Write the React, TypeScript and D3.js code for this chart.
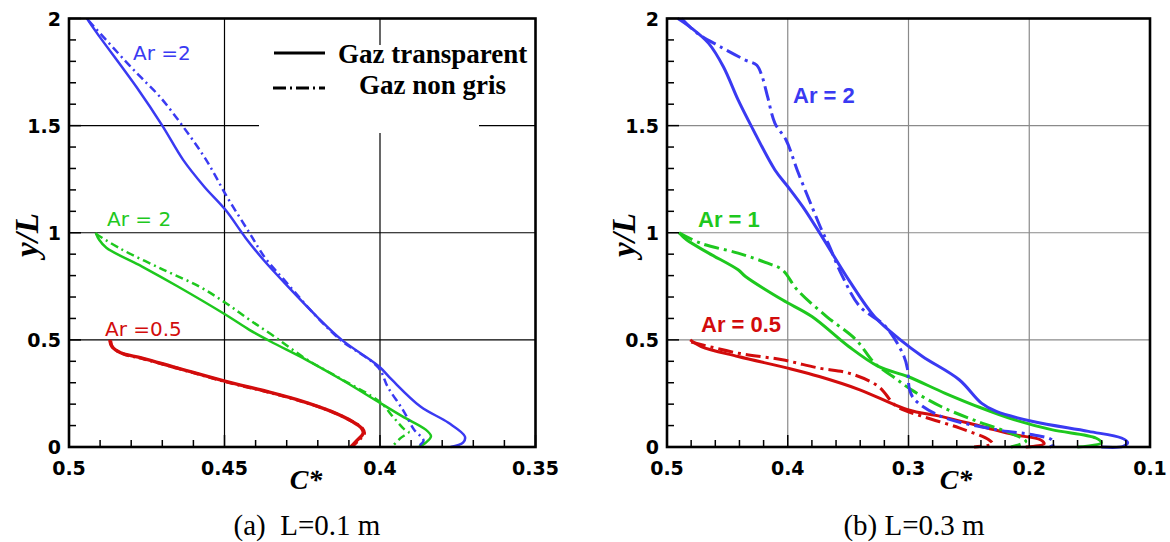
import React from "react";
import * as d3 from "d3";

type Pt = [number, number];

// ---------- data: C* (x) vs y/L (y) ----------
// Panel (a) L = 0.1 m
const aAr2Transparent: Pt[] = [
  [0.4942, 2.0], [0.4914, 1.94], [0.4783, 1.68], [0.470, 1.5], [0.4633, 1.34],
  [0.4565, 1.215], [0.4497, 1.107], [0.4432, 0.976], [0.4375, 0.874], [0.4307, 0.766],
  [0.4203, 0.609], [0.4123, 0.50], [0.4003, 0.376], [0.3962, 0.314], [0.387, 0.189],
  [0.378, 0.113], [0.3727, 0.049], [0.3733, 0.02], [0.3773, 0.0],
];
const aAr2NonGris: Pt[] = [
  [0.4937, 1.99], [0.4805, 1.78], [0.4765, 1.72], [0.4708, 1.635], [0.4633, 1.495],
  [0.4559, 1.34], [0.449, 1.163], [0.442, 1.0], [0.4368, 0.88], [0.4302, 0.77],
  [0.4205, 0.61], [0.4127, 0.5], [0.4005, 0.37], [0.3975, 0.28], [0.3925, 0.17],
  [0.389, 0.08], [0.386, 0.03], [0.388, 0.0],
];
const aAr1Transparent: Pt[] = [
  [0.4914, 1.0], [0.4903, 0.967], [0.488, 0.93], [0.4765, 0.842], [0.465, 0.749],
  [0.4496, 0.617], [0.442, 0.547], [0.4352, 0.4925], [0.4237, 0.407], [0.4123, 0.314],
  [0.3999, 0.205], [0.3928, 0.143], [0.3853, 0.081], [0.3836, 0.05], [0.3853, 0.02],
  [0.3876, 0.0],
];
const aAr1NonGris: Pt[] = [
  [0.4914, 0.995], [0.4834, 0.925], [0.4696, 0.827], [0.4581, 0.749], [0.4496, 0.672],
  [0.442, 0.594], [0.434, 0.516], [0.4237, 0.41], [0.4123, 0.316], [0.4, 0.21],
  [0.3956, 0.137], [0.392, 0.08], [0.3908, 0.07], [0.3935, 0.04], [0.3962, 0.0],
];
const aAr05Transparent: Pt[] = [
  [0.4869, 0.5], [0.4862, 0.469], [0.4834, 0.44], [0.4765, 0.415], [0.465, 0.368],
  [0.4496, 0.306], [0.4364, 0.259], [0.4249, 0.213], [0.4157, 0.166], [0.4089, 0.119],
  [0.406, 0.089], [0.4054, 0.065], [0.4077, 0.026], [0.4094, 0.0],
];
const aAr05NonGris: Pt[] = [
  [0.4866, 0.497], [0.486, 0.466], [0.4828, 0.436], [0.476, 0.411], [0.4645, 0.365],
  [0.449, 0.302], [0.436, 0.256], [0.4245, 0.21], [0.4152, 0.163], [0.4085, 0.116],
  [0.4056, 0.087], [0.405, 0.063], [0.4073, 0.025], [0.409, 0.0],
];

// Panel (b) L = 0.3 m
const bAr2Transparent: Pt[] = [
  [0.491, 2.0], [0.4808, 1.96], [0.4655, 1.884], [0.4533, 1.775], [0.4411, 1.62],
  [0.4304, 1.5], [0.4106, 1.293], [0.4, 1.216], [0.3876, 1.122], [0.3709, 0.975],
  [0.3495, 0.78], [0.3282, 0.609], [0.3067, 0.5], [0.2884, 0.4225], [0.258, 0.314],
  [0.2396, 0.205], [0.2273, 0.166], [0.1969, 0.119], [0.151, 0.073], [0.1236, 0.042],
  [0.1185, 0.021], [0.1222, 0.003], [0.1403, 0.0],
];
const bAr2NonGris: Pt[] = [
  [0.488, 2.0], [0.4747, 1.93], [0.4565, 1.87], [0.4351, 1.806], [0.4258, 1.783],
  [0.4212, 1.729], [0.4167, 1.635], [0.4106, 1.511], [0.4014, 1.433], [0.3922, 1.293],
  [0.38, 1.122], [0.3709, 1.0], [0.3665, 0.95], [0.355, 0.8], [0.3403, 0.656],
  [0.319, 0.5625], [0.3037, 0.4225], [0.3007, 0.36], [0.2991, 0.267], [0.2947, 0.22],
  [0.2731, 0.143], [0.2273, 0.081], [0.197, 0.057], [0.1816, 0.034], [0.18, 0.01],
  [0.183, 0.0],
];
const bAr1Transparent: Pt[] = [
  [0.49, 1.0], [0.4838, 0.967], [0.4655, 0.905], [0.4411, 0.827], [0.435, 0.796],
  [0.4045, 0.687], [0.38, 0.609], [0.3495, 0.469], [0.325, 0.376], [0.3007, 0.329],
  [0.2701, 0.252], [0.2396, 0.182], [0.2121, 0.127], [0.1816, 0.081], [0.1449, 0.042],
  [0.1403, 0.019], [0.1602, 0.0],
];
const bAr1NonGris: Pt[] = [
  [0.49, 1.0], [0.4717, 0.95], [0.4411, 0.905], [0.4167, 0.858], [0.4045, 0.827],
  [0.3922, 0.734], [0.3678, 0.609], [0.3434, 0.5], [0.3282, 0.392], [0.3129, 0.329],
  [0.2976, 0.267], [0.2731, 0.189], [0.2427, 0.119], [0.2121, 0.057], [0.2029, 0.026],
  [0.2152, 0.0],
];
const bAr05Transparent: Pt[] = [
  [0.4808, 0.5], [0.4717, 0.469], [0.4411, 0.4225], [0.4, 0.368], [0.3739, 0.329],
  [0.3403, 0.267], [0.3007, 0.174], [0.2731, 0.143], [0.2396, 0.096], [0.2121, 0.057],
  [0.1908, 0.034], [0.1877, 0.015], [0.2029, 0.0],
];
const bAr05NonGris: Pt[] = [
  [0.48, 0.49], [0.4411, 0.438], [0.4045, 0.407], [0.3739, 0.368], [0.3495, 0.345],
  [0.325, 0.283], [0.3098, 0.189], [0.2884, 0.143], [0.258, 0.089], [0.2335, 0.034],
  [0.2304, 0.015], [0.2457, 0.0],
];

// ---------- axes ----------
const aXTicks = [0.5, 0.45, 0.4, 0.35];
const aXTickLabels = ["0.5", "0.45", "0.4", "0.35"];
const bXTicks = [0.5, 0.4, 0.3, 0.2, 0.1];
const bXTickLabels = ["0.5", "0.4", "0.3", "0.2", "0.1"];
const yTicks = [0, 0.5, 1, 1.5, 2];
const yTickLabels = ["0", "0.5", "1", "1.5", "2"];

const legendLabels = ["Gaz transparent", "Gaz non gris"];

const BLUE = "#3a3af2";
const GREEN = "#1ec81e";
const RED = "#d20c0c";

type Series = { data: Pt[]; color: string; dashed: boolean; width: number };
type Label = { text: string; x: number; y: number; color: string };

type PanelProps = {
  x0: number;
  x1: number;
  xDomain: [number, number];
  xTicks: number[];
  xTickLabels: string[];
  minorStep: number;
  series: Series[];
  labels: Label[];
  labelFont: { family: string; weight: string; size: number };
  gridColor: string;
  dash: string;
  caption: string;
  captionX: number;
  xLabelX: number;
  yLabelX: number;
  legend: boolean;
};

const TOP = 18.5;
const BOTTOM = 447;

function Panel(p: PanelProps) {
  const x = d3.scaleLinear().domain(p.xDomain).range([p.x0, p.x1]);
  const y = d3.scaleLinear().domain([0, 2]).range([BOTTOM, TOP]);
  const line = d3
    .line<Pt>()
    .x((d) => x(d[0]))
    .y((d) => y(d[1]))
    .curve(d3.curveCatmullRom.alpha(0.5));

  const [xa, xb] = p.xDomain;
  const nMinor = Math.round(Math.abs(xa - xb) / p.minorStep);
  const xMinor = d3.range(nMinor + 1).map((i) => xa - i * p.minorStep);
  const yMinor = d3.range(21).map((i) => i * 0.1);

  const innerX = p.xTicks.filter((t) => t !== xa && t !== xb);
  const innerY = yTicks.filter((t) => t !== 0 && t !== 2);

  const tickFont = {
    fontFamily: "'DejaVu Sans', sans-serif",
    fontWeight: "bold" as const,
    fontSize: 19,
  };

  // legend clearing area (panel a)
  const lgX0 = 259, lgX1 = 479, lgY0 = 45, lgY1 = 133;

  return (
    <g>
      {/* grid */}
      {innerX.map((t) => (
        <line key={"gx" + t} x1={x(t)} x2={x(t)} y1={TOP} y2={BOTTOM} stroke={p.gridColor} strokeWidth={1.2} />
      ))}
      {innerY.map((t) => (
        <line key={"gy" + t} x1={p.x0} x2={p.x1} y1={y(t)} y2={y(t)} stroke={p.gridColor} strokeWidth={1.2} />
      ))}
      {p.legend && <rect x={lgX0} y={lgY0} width={lgX1 - lgX0} height={lgY1 - lgY0} fill="#fff" />}

      {/* curves */}
      {p.series.map((s, i) => (
        <path
          key={"s" + i}
          d={line(s.data) || ""}
          fill="none"
          stroke={s.color}
          strokeWidth={s.width}
          strokeDasharray={s.dashed ? p.dash : undefined}
          strokeLinejoin="round"
        />
      ))}

      {/* minor / major ticks, pointing inward */}
      {xMinor.map((t, i) => {
        const major = p.xTicks.some((m) => Math.abs(m - t) < 1e-6);
        return (
          <line key={"tx" + i} x1={x(t)} x2={x(t)} y1={BOTTOM} y2={BOTTOM - (major ? 12 : 7)} stroke="#000" strokeWidth={1.5} />
        );
      })}
      {yMinor.map((t, i) => {
        const major = yTicks.some((m) => Math.abs(m - t) < 1e-6);
        return (
          <line key={"ty" + i} x1={p.x0} x2={p.x0 + (major ? 12 : 7)} y1={y(t)} y2={y(t)} stroke="#000" strokeWidth={1.5} />
        );
      })}

      {/* frame */}
      <rect x={p.x0} y={TOP} width={p.x1 - p.x0} height={BOTTOM - TOP} fill="none" stroke="#000" strokeWidth={2.6} />

      {/* tick labels */}
      {p.xTicks.map((t, i) => (
        <text key={"lx" + t} x={x(t)} y={475} textAnchor="middle" {...tickFont}>
          {p.xTickLabels[i]}
        </text>
      ))}
      {yTicks.map((t, i) => (
        <text key={"ly" + t} x={p.x0 - 8} y={y(t) + 7} textAnchor="end" {...tickFont}>
          {yTickLabels[i]}
        </text>
      ))}

      {/* axis titles */}
      <text
        x={p.xLabelX}
        y={489}
        textAnchor="middle"
        fontFamily="'Liberation Serif', 'Times New Roman', serif"
        fontWeight="bold"
        fontStyle="italic"
        fontSize={28}
      >
        C*
      </text>
      <text
        transform={`translate(${p.yLabelX},235) rotate(-90)`}
        textAnchor="middle"
        dominantBaseline="central"
        fontFamily="'Liberation Serif', 'Times New Roman', serif"
        fontWeight="bold"
        fontStyle="italic"
        fontSize={33}
      >
        y/L
      </text>

      {/* curve labels */}
      {p.labels.map((l, i) => (
        <text
          key={"cl" + i}
          x={l.x}
          y={l.y}
          fill={l.color}
          fontFamily={p.labelFont.family}
          fontWeight={p.labelFont.weight}
          fontSize={p.labelFont.size}
          style={{ whiteSpace: "pre" }}
        >
          {l.text}
        </text>
      ))}

      {/* legend */}
      {p.legend && (
        <g fontFamily="'Liberation Serif', 'Times New Roman', serif" fontWeight="bold" fontSize={27}>
          <line x1={274} x2={325} y1={53} y2={53} stroke="#000" strokeWidth={3} />
          <text x={338} y={63}>{legendLabels[0]}</text>
          <line x1={273} x2={325} y1={88} y2={88} stroke="#000" strokeWidth={3} strokeDasharray="13,4,2,4" />
          <text x={359} y={94}>{legendLabels[1]}</text>
        </g>
      )}

      {/* caption */}
      <text
        x={p.captionX}
        y={535}
        textAnchor="middle"
        fontFamily="'Liberation Serif', 'Times New Roman', serif"
        fontSize={29}
        style={{ whiteSpace: "pre" }}
      >
        {p.caption}
      </text>
    </g>
  );
}

export default function App() {
  return (
    <svg
      width={1170}
      height={542}
      viewBox="0 0 1170 542"
      style={{ position: "absolute", left: 0, top: 0, background: "#fff" }}
    >
      <rect width={1170} height={542} fill="#fff" />
      <Panel
        x0={69}
        x1={535.5}
        xDomain={[0.5, 0.35]}
        xTicks={aXTicks}
        xTickLabels={aXTickLabels}
        minorStep={0.01}
        series={[
          { data: aAr05NonGris, color: RED, dashed: true, width: 3 },
          { data: aAr05Transparent, color: RED, dashed: false, width: 3.4 },
          { data: aAr1NonGris, color: GREEN, dashed: true, width: 2.5 },
          { data: aAr1Transparent, color: GREEN, dashed: false, width: 2.5 },
          { data: aAr2NonGris, color: BLUE, dashed: true, width: 2.5 },
          { data: aAr2Transparent, color: BLUE, dashed: false, width: 2.5 },
        ]}
        labels={[
          { text: "Ar =2", x: 133, y: 60, color: BLUE },
          { text: "Ar = 2", x: 107, y: 226, color: GREEN },
          { text: "Ar =0.5", x: 105, y: 336, color: RED },
        ]}
        labelFont={{ family: "'DejaVu Sans', sans-serif", weight: "500", size: 20 }}
        gridColor="#000"
        dash="8,4,2,4"
        caption="(a)  L=0.1 m"
        captionX={307}
        xLabelX={306}
        yLabelX={27}
        legend={true}
      />
      <Panel
        x0={667}
        x1={1150}
        xDomain={[0.5, 0.1]}
        xTicks={bXTicks}
        xTickLabels={bXTickLabels}
        minorStep={0.02}
        series={[
          { data: bAr05NonGris, color: RED, dashed: true, width: 3 },
          { data: bAr05Transparent, color: RED, dashed: false, width: 3 },
          { data: bAr1NonGris, color: GREEN, dashed: true, width: 3 },
          { data: bAr1Transparent, color: GREEN, dashed: false, width: 3 },
          { data: bAr2NonGris, color: BLUE, dashed: true, width: 3 },
          { data: bAr2Transparent, color: BLUE, dashed: false, width: 3 },
        ]}
        labels={[
          { text: "Ar = 2", x: 793, y: 103, color: BLUE },
          { text: "Ar = 1", x: 698, y: 227, color: GREEN },
          { text: "Ar = 0.5", x: 701, y: 332, color: RED },
        ]}
        labelFont={{ family: "'Liberation Sans', Arial, sans-serif", weight: "bold", size: 22 }}
        gridColor="#8a8a8a"
        dash="15,5,3,5"
        caption="(b) L=0.3 m"
        captionX={914}
        xLabelX={956}
        yLabelX={624}
        legend={false}
      />
    </svg>
  );
}
